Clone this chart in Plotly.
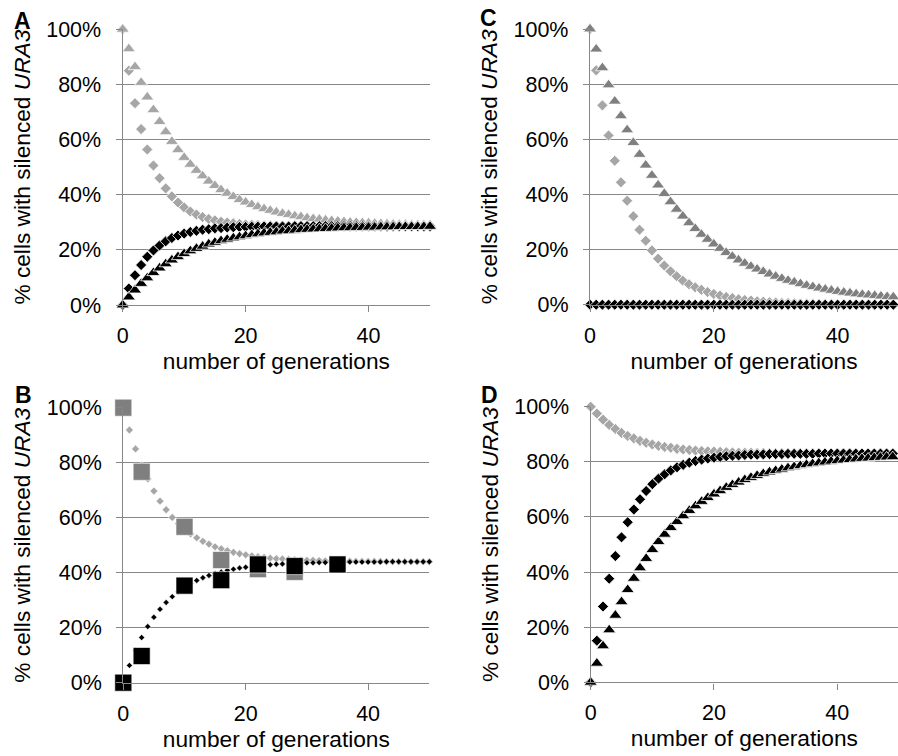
import plotly.graph_objects as go

# ---------------- data (percent of cells with silenced URA3) ----------------
gens = list(range(51))

# Panel A
A_gray_tri = [100, 92.9, 86.4, 80.7, 75.4, 70.8, 66.5, 62.8, 59.3, 56.3, 53.5, 51.0, 48.8, 46.8, 44.9,
              43.3, 41.8, 40.5, 39.3, 38.2, 37.3, 36.4, 35.6, 34.9, 34.3, 33.7, 33.2, 32.8, 32.3, 32.0,
              31.6, 31.3, 31.1, 30.8, 30.6, 30.4, 30.2, 30.0, 29.9, 29.8, 29.7, 29.6, 29.5, 29.4, 29.3,
              29.2, 29.2, 29.1, 29.1, 29.0, 29.0]
A_gray_dia = [100, 85.0, 73.2, 63.8, 56.4, 50.6, 46.0, 42.3, 39.4, 37.2, 35.4, 33.9, 32.8, 31.9, 31.2,
              30.7, 30.2, 29.9, 29.6, 29.4, 29.2, 29.1, 29.0, 28.9, 28.9, 28.8, 28.8, 28.7, 28.7, 28.7,
              28.7, 28.7, 28.7, 28.6, 28.6, 28.6, 28.6, 28.6, 28.6, 28.6, 28.6, 28.6, 28.6, 28.6, 28.6,
              28.6, 28.6, 28.6, 28.6, 28.6, 28.6]
A_black_dia = [0, 6.0, 10.8, 14.5, 17.5, 19.8, 21.6, 23.1, 24.3, 25.2, 25.9, 26.5, 26.9, 27.3, 27.5,
               27.8, 27.9, 28.1, 28.2, 28.3, 28.3, 28.4, 28.4, 28.5, 28.5, 28.5, 28.5, 28.5, 28.6, 28.6,
               28.6, 28.6, 28.6, 28.6, 28.6, 28.6, 28.6, 28.6, 28.6, 28.6, 28.6, 28.6, 28.6, 28.6, 28.6,
               28.6, 28.6, 28.6, 28.6, 28.6, 28.6]
A_black_tri = [0, 2.9, 5.4, 7.8, 9.8, 11.7, 13.4, 14.9, 16.3, 17.5, 18.6, 19.6, 20.5, 21.3, 22.1,
               22.7, 23.3, 23.8, 24.3, 24.7, 25.1, 25.5, 25.8, 26.1, 26.3, 26.5, 26.8, 26.9, 27.1, 27.3,
               27.4, 27.5, 27.6, 27.7, 27.8, 27.9, 28.0, 28.0, 28.1, 28.1, 28.2, 28.2, 28.3, 28.3, 28.3,
               28.4, 28.4, 28.4, 28.4, 28.4, 28.5]

# Panel B
B_gray_dia = [100, 91.9, 85.0, 79.1, 74.1, 69.7, 66.0, 62.9, 60.1, 57.8, 55.8, 54.1, 52.7, 51.4, 50.4,
              49.4, 48.7, 48.0, 47.4, 46.9, 46.5, 46.1, 45.8, 45.6, 45.3, 45.1, 45.0, 44.8, 44.7, 44.6,
              44.5, 44.5, 44.4, 44.3, 44.3, 44.2, 44.2, 44.2, 44.1, 44.1, 44.1, 44.1, 44.1, 44.0, 44.0,
              44.0, 44.0, 44.0, 44.0, 44.0, 44.0]
B_black_dia = [0, 6.3, 11.8, 16.4, 20.4, 23.8, 26.7, 29.2, 31.3, 33.1, 34.7, 36.0, 37.2, 38.2, 39.0,
               39.7, 40.3, 40.9, 41.3, 41.7, 42.0, 42.3, 42.6, 42.8, 42.9, 43.1, 43.2, 43.3, 43.4, 43.5,
               43.6, 43.6, 43.7, 43.7, 43.8, 43.8, 43.8, 43.9, 43.9, 43.9, 43.9, 43.9, 43.9, 44.0, 44.0,
               44.0, 44.0, 44.0, 44.0, 44.0, 44.0]
B_gray_sq_x = [0, 3, 10, 16, 22, 28]
B_gray_sq = [100, 76.7, 56.7, 44.6, 41.3, 40.3]
B_black_sq_x = [0, 3, 10, 16, 22, 28, 35]
B_black_sq = [0, 9.7, 35.3, 37.3, 43.0, 42.4, 43.0]

# Panel C
C_dgray_tri = [100, 92.7, 85.9, 79.7, 73.8, 68.5, 63.4, 58.8, 54.5, 50.6, 46.9, 43.4, 40.3, 37.3, 34.6,
               32.1, 29.7, 27.6, 25.5, 23.7, 22.0, 20.4, 18.9, 17.5, 16.2, 15.0, 13.9, 12.9, 12.0, 11.1,
               10.3, 9.5, 8.8, 8.2, 7.6, 7.0, 6.5, 6.0, 5.6, 5.2, 4.8, 4.5, 4.2, 3.9, 3.7,
               3.5, 3.3, 3.1, 2.9, 2.8, 2.7]
C_gray_dia = [100, 85.0, 72.3, 61.4, 52.2, 44.4, 37.7, 32.1, 27.2, 23.2, 19.7, 16.7, 14.2, 12.1, 10.3,
              8.7, 7.4, 6.3, 5.4, 4.6, 3.9, 3.3, 2.8, 2.4, 2.0, 1.7, 1.5, 1.2, 1.1, 0.9,
              0.8, 0.6, 0.6, 0.5, 0.4, 0.3, 0.3, 0.2, 0.2, 0.2, 0.1, 0.1, 0.1, 0.1, 0.1,
              0.1, 0.1, 0.1, 0.1, 0.1, 0.1]
C_black_dia = [0] * 51

# Panel D
D_gray_dia = [100, 97.5, 95.3, 93.4, 91.9, 90.5, 89.4, 88.5, 87.6, 86.9, 86.3, 85.8, 85.4, 85.1, 84.7,
              84.5, 84.3, 84.1, 83.9, 83.8, 83.7, 83.6, 83.5, 83.4, 83.3, 83.3, 83.3, 83.2, 83.2, 83.2,
              83.1, 83.1, 83.1, 83.1, 83.1, 83.1, 83.0, 83.0, 83.0, 83.0, 83.0, 83.0, 83.0, 83.0, 83.0,
              83.0, 83.0, 83.0, 83.0, 83.0, 83.0]
D_black_dia = [0, 15.1, 27.5, 37.6, 45.8, 52.6, 58.1, 62.7, 66.4, 69.4, 71.9, 73.9, 75.5, 76.9, 78.0,
               78.9, 79.7, 80.3, 80.8, 81.2, 81.5, 81.8, 82.0, 82.2, 82.3, 82.5, 82.6, 82.6, 82.7, 82.8,
               82.8, 82.8, 82.9, 82.9, 82.9, 82.9, 82.9, 83.0, 83.0, 83.0, 83.0, 83.0, 83.0, 83.0, 83.0,
               83.0, 83.0, 83.0, 83.0, 83.0, 83.0]
D_black_tri = [0, 6.9, 13.2, 19.0, 24.3, 29.2, 33.6, 37.7, 41.5, 44.9, 48.1, 51.0, 53.7, 56.1, 58.3,
               60.4, 62.3, 64.0, 65.6, 67.0, 68.3, 69.5, 70.7, 71.7, 72.6, 73.5, 74.3, 75.0, 75.7, 76.3,
               76.8, 77.3, 77.8, 78.2, 78.6, 79.0, 79.3, 79.6, 79.9, 80.2, 80.4, 80.6, 80.8, 81.0, 81.2,
               81.3, 81.5, 81.6, 81.7, 81.8, 81.9]

x_ticks = [0, 20, 40]
y_ticks = [0, 20, 40, 60, 80, 100]
y_tick_labels = ["0%", "20%", "40%", "60%", "80%", "100%"]
panel_letters = ["A", "B", "C", "D"]
x_title = "number of generations"
y_title = "% cells with silenced <i>URA3</i>"

# ---------------- styling ----------------
LIGHT = "#a6a6a6"
DARK = "#7f7f7f"
BLACK = "#000000"
GRID = "#878787"
FONT = "Liberation Sans, Arial, sans-serif"
W, H = 898, 756

fig = go.Figure()

TRI = 11.5
DIA = 8.5


def add(x, y, sym, size, color, ax, lw=0.8):
    fig.add_trace(go.Scatter(
        x=x, y=y, mode="markers", xaxis=ax[0], yaxis=ax[1], cliponaxis=False,
        marker=dict(symbol=sym, size=size, color=color, line=dict(color="white", width=lw)),
        showlegend=False, hoverinfo="skip"))


# Panel A -> x/y
add(gens, A_gray_dia, "diamond", DIA, LIGHT, ("x", "y"))
add(gens, A_gray_tri, "triangle-up", TRI, LIGHT, ("x", "y"))
add(gens, A_black_dia, "diamond", DIA, BLACK, ("x", "y"))
add(gens, A_black_tri, "triangle-up", TRI, BLACK, ("x", "y"))

# Panel B -> x2/y2
add(gens, B_gray_dia, "diamond", 6, LIGHT, ("x2", "y2"), 0.5)
add(gens, B_black_dia, "diamond", 4.6, BLACK, ("x2", "y2"), 0.4)
add(B_gray_sq_x, B_gray_sq, "square", 17, DARK, ("x2", "y2"), 0.6)
add(B_black_sq_x, B_black_sq, "square", 17, BLACK, ("x2", "y2"), 0.6)

# Panel C -> x3/y3
add(gens, C_gray_dia, "diamond", DIA, LIGHT, ("x3", "y3"))
add(gens, C_dgray_tri, "triangle-up", TRI, DARK, ("x3", "y3"))
add(gens, C_black_dia, "diamond", DIA, BLACK, ("x3", "y3"))

# Panel D -> x4/y4
add(gens, D_gray_dia, "diamond", DIA, LIGHT, ("x4", "y4"))
add(gens, D_black_dia, "diamond", DIA, BLACK, ("x4", "y4"))
add(gens, D_black_tri, "triangle-up", TRI, BLACK, ("x4", "y4"))


def px(v):
    return v / W


def py(v):
    return 1 - v / H


tickfont = dict(family=FONT, size=21.5, color="black")
titlefont = dict(family=FONT, size=22.7, color="black")


def xax(dom, rng, anchor):
    return dict(domain=dom, range=rng, anchor=anchor, tickmode="array", tickvals=x_ticks,
                ticktext=[str(v) for v in x_ticks], ticks="outside", ticklen=6,
                tickcolor=GRID, tickwidth=1.4, showgrid=False, zeroline=False, showline=True,
                linecolor=GRID, linewidth=1.4, tickfont=tickfont, ticklabelstandoff=5,
                automargin=False,
                title=dict(text=x_title, font=titlefont, standoff=5), fixedrange=True)


def yax(dom, anchor):
    return dict(domain=dom, range=[0, 100], anchor=anchor, tickmode="array", tickvals=y_ticks,
                ticktext=y_tick_labels, ticks="outside", ticklen=6, tickcolor=GRID, tickwidth=1.4,
                showgrid=True, gridcolor=GRID, gridwidth=1.4, zeroline=False, showline=True,
                linecolor=GRID, linewidth=1.4, tickfont=tickfont, ticklabelstandoff=10,
                automargin=False,
                title=dict(text=y_title, font=titlefont, standoff=9), fixedrange=True)


fig.update_layout(
    width=W, height=H, margin=dict(l=0, r=0, t=0, b=0, pad=0, autoexpand=False),
    paper_bgcolor="white", plot_bgcolor="white", font=dict(family=FONT),
    xaxis=xax([px(122.7), px(430)], [0, 50], "y"),
    yaxis=yax([py(305), py(29.3)], "x"),
    xaxis2=xax([px(123.3), px(429.3)], [0, 50], "y2"),
    yaxis2=yax([py(682.7), py(407.7)], "x2"),
    xaxis3=xax([px(590), 1.0], [0, 49.76], "y3"),
    yaxis3=yax([py(304.7), py(29)], "x3"),
    xaxis4=xax([px(590.7), 1.0], [0, 49.85], "y4"),
    yaxis4=yax([py(682.3), py(406.7)], "x4"),
)

letter_pos = {"A": (22, 21), "B": (23, 395), "C": (488, 18), "D": (489, 395)}
for L in panel_letters:
    lx, ly = letter_pos[L]
    fig.add_annotation(text="<b>%s</b>" % L, x=px(lx), y=py(ly), xref="paper", yref="paper",
                       showarrow=False, xanchor="center", yanchor="middle",
                       font=dict(family=FONT, size=23, color="black"))

fig.write_html("out.html")
